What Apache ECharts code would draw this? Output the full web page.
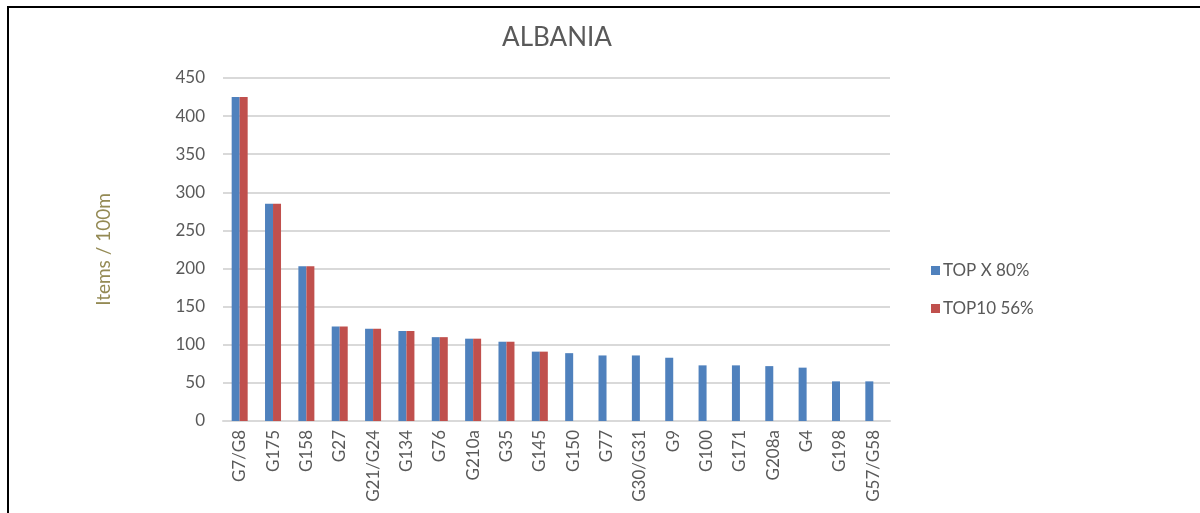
<!DOCTYPE html>
<html>
<head>
<meta charset="utf-8">
<script src="https://cdn.jsdelivr.net/npm/echarts@6/dist/echarts.min.js"></script>
<style>
html,body{margin:0;padding:0;background:#fff;}
#c{width:1200px;height:513px;}
</style>
</head>
<body>
<div id="c"></div>
<script>
const categories = ["G7/G8","G175","G158","G27","G21/G24","G134","G76","G210a","G35","G145","G150","G77","G30/G31","G9","G100","G171","G208a","G4","G198","G57/G58"];
const topX80 = [425,285,203,124,121,118,110,108,104,91,89,86,86,83,73,73,72,70,52,52];
const top10_56 = [425,285,203,124,121,118,110,108,104,91,null,null,null,null,null,null,null,null,null,null];
const yTicks = [0,50,100,150,200,250,300,350,400,450];

const chart = echarts.init(document.getElementById('c'), null, {renderer:'canvas'});
const font = 'Lato, "Open Sans", "Noto Sans", sans-serif';
chart.setOption({
  animation:false,
  backgroundColor:'#ffffff',
  textStyle:{fontFamily:font},
  title:{
    text:'ALBANIA',
    left:552, top:20, textAlign:'center',
    textStyle:{fontFamily:font, fontSize:26, fontWeight:'normal', color:'#595959'}
  },
  graphic:[
    {type:'line', shape:{x1:7, y1:7, x2:1200, y2:7}, style:{stroke:'#000', lineWidth:2}},
    {type:'line', shape:{x1:8, y1:6, x2:8, y2:513}, style:{stroke:'#000', lineWidth:2}}
  ],
  legend:{
    orient:'vertical',
    left:926, top:257,
    itemWidth:9, itemHeight:9, itemGap:21,
    icon:'rect',
    textStyle:{fontFamily:font, fontSize:17, color:'#595959', padding:[0,0,0,-2]},
    data:['TOP X 80%','TOP10 56%']
  },
  grid:{left:223, right:310, top:78, bottom:92, containLabel:false},
  xAxis:{
    type:'category',
    data:categories,
    axisLine:{show:true, lineStyle:{color:'#D9D9D9', width:2}},
    axisTick:{show:false},
    axisLabel:{rotate:90, color:'#595959', fontSize:17, fontFamily:font, margin:9, interval:0}
  },
  yAxis:{
    type:'value',
    min:yTicks[0], max:yTicks[yTicks.length-1], interval:50,
    name:'Items / 100m',
    nameLocation:'middle',
    nameGap:110,
    nameRotate:90,
    nameTextStyle:{color:'#948A54', fontSize:19, fontFamily:font},
    axisLine:{show:false},
    axisTick:{show:false},
    axisLabel:{color:'#595959', fontSize:17, fontFamily:font, margin:18},
    splitLine:{lineStyle:{color:'#D9D9D9', width:2}}
  },
  series:[
    {name:'TOP X 80%', type:'bar', data:topX80, barWidth:8, barGap:'0%',
     itemStyle:{color:'#4F81BD'}},
    {name:'TOP10 56%', type:'bar', data:top10_56, barWidth:8, barGap:'0%',
     itemStyle:{color:'#C0504D'}}
  ]
});
</script>
</body>
</html>
